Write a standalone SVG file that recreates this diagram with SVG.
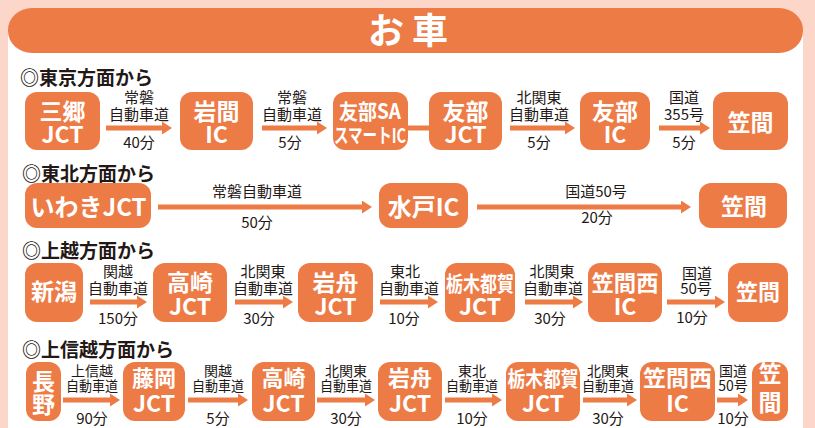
<svg xmlns="http://www.w3.org/2000/svg" width="815" height="428" viewBox="0 0 815 428">
<defs>
<style>
.bg{fill:#fcd6c8}
.panel{fill:#ffffff}
.node rect{fill:#ed7b46}
.nt{font-family:"Noto Sans CJK JP","Noto Sans",sans-serif;font-weight:700;fill:#ffffff;text-anchor:middle}
.lb{font-family:"Noto Sans CJK JP","Noto Sans",sans-serif;font-weight:400;fill:#231815;text-anchor:middle;font-size:15px}
.s14{font-size:14px}
.hd{font-family:"Noto Sans CJK JP","Noto Sans",sans-serif;font-weight:700;fill:#231815;font-size:19px}
.ar{stroke:#ed7b46;stroke-width:5;fill:none;marker-end:url(#ah)}
.ln{stroke:#ed7b46;stroke-width:5;fill:none}
.title{font-family:"Noto Sans CJK JP","Noto Sans",sans-serif;font-weight:700;fill:#ffffff;font-size:36px;text-anchor:middle}
</style>
<marker id="ah" markerUnits="userSpaceOnUse" markerWidth="11" markerHeight="13" refX="0" refY="6.5" orient="auto">
<path d="M0,0 L10,6.5 L0,13 Z" fill="#ed7b46"/>
</marker>
</defs>
<rect class="bg" x="0" y="0" width="815" height="428"/>
<rect class="panel" x="8" y="30" width="795" height="398"/>
<g id="title">
<rect x="8" y="8" width="795" height="45" rx="24" ry="22" fill="#ed7b46"/>
<text class="title" x="408" y="44">お 車</text>
</g>

<g id="headings">
<text class="hd" x="20" y="85">◎東京方面から</text>
<text class="hd" x="22" y="181">◎東北方面から</text>
<text class="hd" x="22" y="258">◎上越方面から</text>
<text class="hd" x="22" y="357">◎上信越方面から</text>
</g>

<!-- Row 1 -->
<g id="r1-misato" class="node"><rect x="25" y="92" width="75" height="58" rx="12"/>
<text class="nt" font-size="23"><tspan x="62.5" y="120">三郷</tspan><tspan x="62.5" y="143">JCT</tspan></text></g>
<g id="r1-iwama" class="node"><rect x="180" y="92" width="73" height="58" rx="12"/>
<text class="nt" font-size="23"><tspan x="216.5" y="120">岩間</tspan><tspan x="216.5" y="143">IC</tspan></text></g>
<g id="r1-tomobesa" class="node"><rect x="333" y="92" width="75" height="58" rx="12"/>
<text class="nt" font-size="21"><tspan x="370" y="119" textLength="62" lengthAdjust="spacingAndGlyphs">友部SA</tspan><tspan x="370" y="143" font-size="20" textLength="72" lengthAdjust="spacingAndGlyphs">スマートIC</tspan></text></g>
<g id="r1-tomobejct" class="node"><rect x="429" y="92" width="73" height="58" rx="12"/>
<text class="nt" font-size="23"><tspan x="465.5" y="120">友部</tspan><tspan x="465.5" y="143">JCT</tspan></text></g>
<g id="r1-tomobeic" class="node"><rect x="580" y="92" width="70" height="58" rx="12"/>
<text class="nt" font-size="23"><tspan x="615" y="120">友部</tspan><tspan x="615" y="143">IC</tspan></text></g>
<g id="r1-kasama" class="node"><rect x="713" y="92" width="75" height="58" rx="12"/>
<text class="nt" x="750.5" y="131" font-size="23">笠間</text></g>

<!-- Row 2 -->
<g id="r2-iwaki" class="node"><rect x="25" y="183" width="126" height="45" rx="12"/>
<text class="nt" x="88.5" y="216" font-size="24">いわきJCT</text></g>
<g id="r2-mito" class="node"><rect x="379" y="183" width="89" height="45" rx="12"/>
<text class="nt" x="423.5" y="216" font-size="24">水戸IC</text></g>
<g id="r2-kasama" class="node"><rect x="699" y="183" width="88" height="45" rx="12"/>
<text class="nt" x="744" y="215" font-size="23">笠間</text></g>

<!-- Row 3 -->
<g id="r3-niigata" class="node"><rect x="25" y="263" width="58" height="59" rx="12"/>
<text class="nt" x="54" y="300" font-size="23">新潟</text></g>
<g id="r3-takasaki" class="node"><rect x="153" y="263" width="74" height="59" rx="12"/>
<text class="nt" font-size="23"><tspan x="190" y="291">高崎</tspan><tspan x="190" y="315">JCT</tspan></text></g>
<g id="r3-iwafune" class="node"><rect x="298" y="263" width="75" height="59" rx="12"/>
<text class="nt" font-size="23"><tspan x="335.5" y="291">岩舟</tspan><tspan x="335.5" y="315">JCT</tspan></text></g>
<g id="r3-tochigitsuga" class="node"><rect x="445" y="263" width="70" height="59" rx="12"/>
<text class="nt" font-size="23"><tspan x="480" y="291" font-size="21" textLength="68" lengthAdjust="spacingAndGlyphs">栃木都賀</tspan><tspan x="480" y="315">JCT</tspan></text></g>
<g id="r3-kasamanishi" class="node"><rect x="588" y="263" width="74" height="59" rx="12"/>
<text class="nt" font-size="23"><tspan x="625" y="291" font-size="22" textLength="67" lengthAdjust="spacingAndGlyphs">笠間西</tspan><tspan x="625" y="315">IC</tspan></text></g>
<g id="r3-kasama" class="node"><rect x="728" y="263" width="60" height="59" rx="12"/>
<text class="nt" x="758" y="300" font-size="22">笠間</text></g>

<!-- Row 4 -->
<g id="r4-nagano" class="node"><rect x="26" y="362" width="35" height="59" rx="12"/>
<text class="nt" font-size="23"><tspan x="43.5" y="390">長</tspan><tspan x="43.5" y="413">野</tspan></text></g>
<g id="r4-fujioka" class="node"><rect x="123" y="362" width="62" height="59" rx="12"/>
<text class="nt" font-size="23"><tspan x="154" y="386" font-size="22">藤岡</tspan><tspan x="154" y="412">JCT</tspan></text></g>
<g id="r4-takasaki" class="node"><rect x="252" y="362" width="63" height="59" rx="12"/>
<text class="nt" font-size="23"><tspan x="283.5" y="386" font-size="22">高崎</tspan><tspan x="283.5" y="412">JCT</tspan></text></g>
<g id="r4-iwafune" class="node"><rect x="378" y="362" width="64" height="59" rx="12"/>
<text class="nt" font-size="23"><tspan x="410" y="386" font-size="22">岩舟</tspan><tspan x="410" y="412">JCT</tspan></text></g>
<g id="r4-tochigitsuga" class="node"><rect x="506" y="362" width="74" height="59" rx="12"/>
<text class="nt" font-size="23"><tspan x="543" y="386" font-size="21" textLength="71" lengthAdjust="spacingAndGlyphs">栃木都賀</tspan><tspan x="543" y="412">JCT</tspan></text></g>
<g id="r4-kasamanishi" class="node"><rect x="640" y="362" width="75" height="59" rx="12"/>
<text class="nt" font-size="23"><tspan x="677.5" y="386" font-size="22" textLength="69" lengthAdjust="spacingAndGlyphs">笠間西</tspan><tspan x="677.5" y="412">IC</tspan></text></g>
<g id="r4-kasama" class="node"><rect x="752" y="362" width="36" height="59" rx="12"/>
<text class="nt" font-size="23"><tspan x="770" y="382">笠</tspan><tspan x="770" y="411">間</tspan></text></g>

<g id="connectors">
<line class="ar" x1="106" y1="128" x2="162" y2="128"/>
<line class="ar" x1="262" y1="128" x2="317" y2="128"/>
<line class="ln" x1="407" y1="128" x2="430" y2="128"/>
<line class="ar" x1="510" y1="128" x2="565" y2="128"/>
<line class="ar" x1="659" y1="128" x2="700" y2="128"/>
<line class="ar" x1="158" y1="207" x2="362" y2="207"/>
<line class="ar" x1="477" y1="207" x2="681" y2="207"/>
<line class="ar" x1="90" y1="302" x2="137" y2="302"/>
<line class="ar" x1="235" y1="302" x2="283" y2="302"/>
<line class="ar" x1="380" y1="302" x2="428" y2="302"/>
<line class="ar" x1="525" y1="302" x2="573" y2="302"/>
<line class="ar" x1="667" y1="302" x2="715" y2="302"/>
<line class="ar" x1="63" y1="400" x2="110" y2="400"/>
<line class="ar" x1="188" y1="400" x2="238" y2="400"/>
<line class="ar" x1="317" y1="400" x2="365" y2="400"/>
<line class="ar" x1="445" y1="400" x2="492" y2="400"/>
<line class="ar" x1="583" y1="400" x2="627" y2="400"/>
<line class="ar" x1="717" y1="400" x2="738" y2="400"/>
</g>

<g id="connector-labels">
<!-- Row 1 -->
<text class="lb"><tspan x="139" y="103">常磐</tspan><tspan x="139" y="120">自動車道</tspan><tspan x="139" y="148">40分</tspan></text>
<text class="lb"><tspan x="292" y="103">常磐</tspan><tspan x="292" y="120">自動車道</tspan><tspan x="290" y="148">5分</tspan></text>
<text class="lb"><tspan x="539" y="103">北関東</tspan><tspan x="539" y="120">自動車道</tspan><tspan x="539" y="148">5分</tspan></text>
<text class="lb"><tspan x="684" y="103">国道</tspan><tspan x="684" y="120">355号</tspan><tspan x="684" y="148">5分</tspan></text>
<!-- Row 2 -->
<text class="lb"><tspan x="257" y="197">常磐自動車道</tspan><tspan x="257" y="228">50分</tspan></text>
<text class="lb"><tspan x="596" y="197">国道50号</tspan><tspan x="597" y="223">20分</tspan></text>
<!-- Row 3 -->
<text class="lb"><tspan x="118" y="277">関越</tspan><tspan x="118" y="293.5">自動車道</tspan><tspan x="118" y="323.5">150分</tspan></text>
<text class="lb"><tspan x="263" y="277">北関東</tspan><tspan x="263" y="293.5">自動車道</tspan><tspan x="259" y="323.5">30分</tspan></text>
<text class="lb"><tspan x="405" y="277">東北</tspan><tspan x="409" y="293.5">自動車道</tspan><tspan x="404" y="323.5">10分</tspan></text>
<text class="lb"><tspan x="552" y="277">北関東</tspan><tspan x="553" y="293.5">自動車道</tspan><tspan x="550" y="323.5">30分</tspan></text>
<text class="lb"><tspan x="697" y="279">国道</tspan><tspan x="696" y="294">50号</tspan><tspan x="692" y="323">10分</tspan></text>
<!-- Row 4 -->
<text class="lb"><tspan class="s14" x="92" y="376">上信越</tspan><tspan class="s14" x="92" y="391" textLength="52" lengthAdjust="spacingAndGlyphs">自動車道</tspan><tspan x="92" y="424">90分</tspan></text>
<text class="lb"><tspan class="s14" x="218" y="376">関越</tspan><tspan class="s14" x="218" y="391" textLength="52" lengthAdjust="spacingAndGlyphs">自動車道</tspan><tspan x="218" y="424">5分</tspan></text>
<text class="lb"><tspan class="s14" x="346" y="376">北関東</tspan><tspan class="s14" x="346" y="391" textLength="52" lengthAdjust="spacingAndGlyphs">自動車道</tspan><tspan x="346" y="424">30分</tspan></text>
<text class="lb"><tspan class="s14" x="472" y="376">東北</tspan><tspan class="s14" x="472" y="391" textLength="52" lengthAdjust="spacingAndGlyphs">自動車道</tspan><tspan x="472" y="424">10分</tspan></text>
<text class="lb"><tspan class="s14" x="608" y="376">北関東</tspan><tspan class="s14" x="608" y="391" textLength="52" lengthAdjust="spacingAndGlyphs">自動車道</tspan><tspan x="608" y="424">30分</tspan></text>
<text class="lb"><tspan class="s14" x="733" y="376">国道</tspan><tspan class="s14" x="733" y="391">50号</tspan><tspan x="733" y="424">10分</tspan></text>
</g>
</svg>
